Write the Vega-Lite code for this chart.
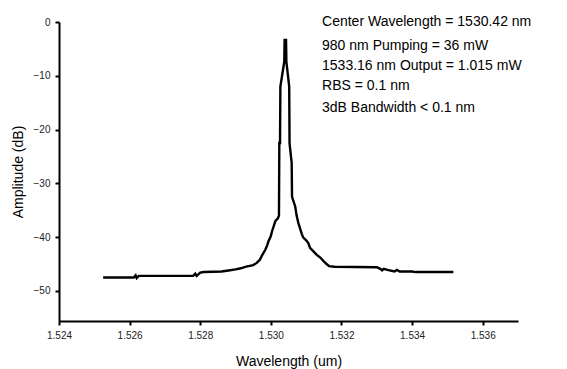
{
  "$schema": "https://vega.github.io/schema/vega-lite/v6.json",
  "autosize": {"type": "none"},
  "width": 459,
  "height": 299,
  "padding": {"left": 59, "top": 22, "right": 49, "bottom": 48},
  "config": {
    "view": {"stroke": null},
    "font": "Liberation Sans",
    "axis": {"grid": false, "domainColor": "black", "domainWidth": 2, "tickColor": "black", "tickWidth": 2, "labelColor": "#222", "labelFont": "Liberation Sans", "labelFontSize": 10, "titleFont": "Liberation Sans", "titleFontSize": 14, "titleFontWeight": "normal", "titleColor": "black"}
  },
  "datasets": {
    "spectrum": [
      {"wl": 1.52525, "db": -47.5},
      {"wl": 1.52612, "db": -47.5},
      {"wl": 1.52617, "db": -47.1},
      {"wl": 1.52620, "db": -47.6},
      {"wl": 1.52626, "db": -47.2},
      {"wl": 1.52780, "db": -47.2},
      {"wl": 1.52786, "db": -46.8},
      {"wl": 1.52790, "db": -47.2},
      {"wl": 1.52800, "db": -46.6},
      {"wl": 1.52810, "db": -46.5},
      {"wl": 1.52860, "db": -46.4},
      {"wl": 1.52880, "db": -46.2},
      {"wl": 1.52900, "db": -46.0},
      {"wl": 1.52915, "db": -45.8},
      {"wl": 1.52930, "db": -45.5},
      {"wl": 1.52950, "db": -45.2},
      {"wl": 1.52960, "db": -44.8},
      {"wl": 1.52969, "db": -44.2},
      {"wl": 1.52975, "db": -43.4},
      {"wl": 1.52984, "db": -42.4},
      {"wl": 1.52990, "db": -41.5},
      {"wl": 1.52993, "db": -40.8},
      {"wl": 1.53000, "db": -39.8},
      {"wl": 1.53003, "db": -39.0},
      {"wl": 1.53010, "db": -37.6},
      {"wl": 1.53013, "db": -37.0},
      {"wl": 1.53020, "db": -36.5},
      {"wl": 1.53023, "db": -36.0},
      {"wl": 1.53024, "db": -22.5},
      {"wl": 1.53026, "db": -22.5},
      {"wl": 1.53027, "db": -12.0},
      {"wl": 1.53038, "db": -7.4},
      {"wl": 1.53039, "db": -3.35},
      {"wl": 1.53043, "db": -3.35},
      {"wl": 1.53044, "db": -7.4},
      {"wl": 1.53052, "db": -12.0},
      {"wl": 1.53053, "db": -22.6},
      {"wl": 1.53059, "db": -26.2},
      {"wl": 1.53060, "db": -32.5},
      {"wl": 1.53069, "db": -34.3},
      {"wl": 1.53073, "db": -36.0},
      {"wl": 1.53078, "db": -37.4},
      {"wl": 1.53088, "db": -39.5},
      {"wl": 1.53092, "db": -40.1},
      {"wl": 1.53100, "db": -40.6},
      {"wl": 1.53106, "db": -41.1},
      {"wl": 1.53111, "db": -42.0},
      {"wl": 1.53120, "db": -42.6},
      {"wl": 1.53130, "db": -43.3},
      {"wl": 1.53140, "db": -43.8},
      {"wl": 1.53150, "db": -44.5},
      {"wl": 1.53158, "db": -45.0},
      {"wl": 1.53165, "db": -45.4},
      {"wl": 1.53180, "db": -45.5},
      {"wl": 1.53300, "db": -45.6},
      {"wl": 1.53310, "db": -45.9},
      {"wl": 1.53315, "db": -46.2},
      {"wl": 1.53320, "db": -45.9},
      {"wl": 1.53330, "db": -46.1},
      {"wl": 1.53350, "db": -46.4},
      {"wl": 1.53357, "db": -46.1},
      {"wl": 1.53365, "db": -46.4},
      {"wl": 1.53400, "db": -46.4},
      {"wl": 1.53410, "db": -46.5},
      {"wl": 1.53517, "db": -46.5}
    ],
    "notes": [
      {"wl": 1.53145, "db": 0, "label": "Center Wavelength = 1530.42 nm"},
      {"wl": 1.53145, "db": -4.5, "label": "980 nm Pumping = 36 mW"},
      {"wl": 1.53145, "db": -8.2, "label": "1533.16 nm Output = 1.015 mW"},
      {"wl": 1.53145, "db": -11.9, "label": "RBS =  0.1 nm"},
      {"wl": 1.53145, "db": -16.0, "label": "3dB Bandwidth < 0.1 nm"}
    ]
  },
  "layer": [
    {
      "data": {"name": "spectrum"},
      "mark": {"type": "line", "color": "black", "strokeWidth": 2.4, "interpolate": "linear", "strokeJoin": "miter"},
      "encoding": {
        "x": {
          "field": "wl", "type": "quantitative",
          "scale": {"domain": [1.524, 1.537], "nice": false, "zero": false},
          "axis": {
            "title": "Wavelength (um)",
            "values": [1.524, 1.525, 1.526, 1.527, 1.528, 1.529, 1.53, 1.531, 1.532, 1.533, 1.534, 1.535, 1.536, 1.537],
            "labelExpr": "round(datum.value*1000) % 2 == 0 && datum.value < 1.5365 ? format(datum.value, '.3f') : ''",
            "tickSize": {"condition": {"test": "round(datum.value*1000) % 2 == 0 && datum.value < 1.5365", "value": 4}, "value": 2},
            "labelPadding": 5,
            "labelFlush": false,
            "titlePadding": 14
          }
        },
        "y": {
          "field": "db", "type": "quantitative",
          "scale": {"domain": [-55.6, 0], "nice": false, "zero": false},
          "axis": {
            "title": "Amplitude (dB)",
            "values": [0, -5, -10, -15, -20, -25, -30, -35, -40, -45, -50],
            "labelExpr": "datum.value % 10 == 0 ? format(datum.value, 'd') : ''",
            "tickSize": {"condition": {"test": "datum.value % 10 == 0", "value": 4}, "value": 2},
            "labelPadding": 5,
            "labelFlush": false,
            "titlePadding": 8
          }
        }
      }
    },
    {
      "data": {"name": "notes"},
      "mark": {"type": "text", "align": "left", "baseline": "middle", "fontSize": 14, "font": "Liberation Sans", "color": "black"},
      "encoding": {
        "x": {"field": "wl", "type": "quantitative"},
        "y": {"field": "db", "type": "quantitative"},
        "text": {"field": "label"}
      }
    }
  ]
}
